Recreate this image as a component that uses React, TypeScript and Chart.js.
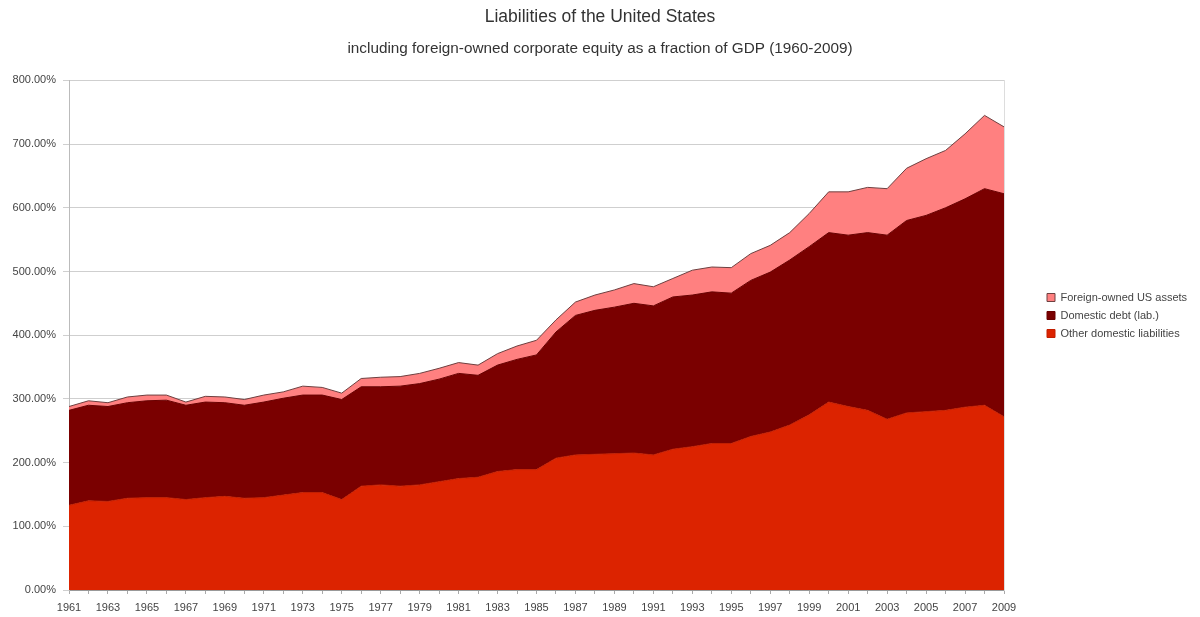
import { useEffect, useRef } from 'react';
import { Chart, registerables } from 'chart.js';

Chart.register(...registerables);

const years = [
  '1961', '1962', '1963', '1964', '1965', '1966', '1967', '1968', '1969', '1970',
  '1971', '1972', '1973', '1974', '1975', '1976', '1977', '1978', '1979', '1980',
  '1981', '1982', '1983', '1984', '1985', '1986', '1987', '1988', '1989', '1990',
  '1991', '1992', '1993', '1994', '1995', '1996', '1997', '1998', '1999', '2000',
  '2001', '2002', '2003', '2004', '2005', '2006', '2007', '2008', '2009',
];

// Other domestic liabilities (% of GDP)
const otherDomestic = [
  133, 140, 139, 144, 145, 145, 142, 145, 147, 144,
  145, 149, 153, 153, 142, 163, 165, 163, 165, 170,
  175, 177, 186, 189, 189, 207, 212, 213, 214, 215,
  212, 221, 225, 230, 230, 241, 248, 259, 275, 295,
  288, 282, 268, 278, 280, 282, 287, 290, 272,
];

// Domestic debt (liabilities) (% of GDP)
const domesticDebt = [
  149, 150, 149, 150, 152, 153, 148, 150, 147, 146,
  150, 152, 153, 153, 157, 156, 154, 157, 159, 161,
  165, 160, 167, 173, 180, 198, 219, 226, 230, 235,
  234, 239, 238, 238, 236, 245, 251, 259, 264, 266,
  269, 279, 289, 302, 308, 318, 327, 340, 350,
];

// Foreign-owned US assets (% of GDP)
const foreignOwned = [
  6, 7, 6, 9, 9, 8, 5, 9, 9, 9,
  11, 10, 14, 12, 10, 13, 15, 15, 16, 17,
  17, 16, 18, 21, 23, 19, 21, 24, 27, 31,
  30, 29, 39, 39, 40, 42, 42, 43, 52, 64,
  68, 71, 73, 82, 89, 90, 102, 115, 105,
];

const seriesNames = ['Other domestic liabilities', 'Domestic debt (lab.)', 'Foreign-owned US assets'];
const titleText = 'Liabilities of the United States';
const subtitleText = 'including foreign-owned corporate equity as a fraction of GDP (1960-2009)';

const FONT = "'Liberation Sans', Arial, sans-serif";

const legendPlacer = {
  id: 'legendPlacer',
  beforeLayout(chart: any) {
    const lg = chart.legend;
    if (lg && !lg.__patched) {
      const orig = lg.fit.bind(lg);
      lg.fit = function () {
        orig();
        this.width = 196;
      };
      lg.__patched = true;
    }
  },
  afterLayout(chart: any) {
    const lg = chart.legend;
    if (!lg) return;
    const w = lg.width;
    const h = lg.height;
    lg.left = 1040;
    lg.right = lg.left + w;
    lg.top = 285;
    lg.bottom = lg.top + h;
  },
};

export default function App() {
  const canvasRef = useRef<HTMLCanvasElement | null>(null);

  useEffect(() => {
    document.body.style.margin = '0';
    const canvas = canvasRef.current;
    if (!canvas) return;
    const chart = new Chart(canvas, {
      type: 'line',
      data: {
        labels: years,
        datasets: [
          {
            label: seriesNames[0],
            data: otherDomestic,
            backgroundColor: '#dc2300',
            borderColor: '#c21f00',
            borderWidth: 1,
            fill: 'origin',
            pointRadius: 0,
            tension: 0,
          },
          {
            label: seriesNames[1],
            data: domesticDebt,
            backgroundColor: '#7a0000',
            borderColor: '#6a0000',
            borderWidth: 1,
            fill: '-1',
            pointRadius: 0,
            tension: 0,
          },
          {
            label: seriesNames[2],
            data: foreignOwned,
            backgroundColor: '#ff8080',
            borderColor: '#6e4040',
            borderWidth: 1,
            fill: '-1',
            pointRadius: 0,
            tension: 0,
          },
        ],
      },
      options: {
        animation: false,
        responsive: true,
        maintainAspectRatio: false,
        layout: { padding: { left: 0, right: 0, top: 0, bottom: 0 } },
        plugins: {
          title: {
            display: true,
            text: titleText,
            color: '#333',
            font: { family: FONT, size: 17.5, weight: 'normal' },
            padding: { top: 7, bottom: 6 },
          },
          subtitle: {
            display: true,
            text: subtitleText,
            color: '#333',
            font: { family: FONT, size: 15.3, weight: 'normal' },
            padding: { top: 6, bottom: 22 },
          },
          legend: {
            display: true,
            position: 'right',
            align: 'start',
            reverse: true,
            labels: {
              boxWidth: 8,
              boxHeight: 8,
              padding: 7,
              color: '#444',
              font: { family: FONT, size: 11 },
            },
          },
          tooltip: { enabled: false },
        },
        scales: {
          x: {
            type: 'category',
            offset: false,
            afterFit: (scale: any) => {
              scale.height = 27;
            },
            grid: {
              display: true,
              drawOnChartArea: false,
              drawTicks: true,
              tickLength: 4,
              color: '#aaa',
            },
            border: { display: true, color: '#999' },
            ticks: {
              autoSkip: false,
              maxRotation: 0,
              minRotation: 0,
              padding: 7,
              color: '#444',
              font: { family: FONT, size: 11 },
              callback: (_v: any, i: number) => (i % 2 === 0 ? years[i] : ''),
            },
          },
          y: {
            stacked: true,
            min: 0,
            max: 800,
            afterFit: (scale: any) => {
              scale.width = 69;
            },
            grid: {
              color: '#cfcfcf',
              tickLength: 6,
            },
            border: { display: true, color: '#bbb' },
            ticks: {
              stepSize: 100,
              padding: 7,
              color: '#444',
              font: { family: FONT, size: 11 },
              callback: (v: any) => Number(v).toFixed(2) + '%',
            },
          },
          y2: {
            position: 'right',
            min: 0,
            max: 800,
            afterFit: (scale: any) => {
              scale.width = 0;
            },
            grid: { drawOnChartArea: false, drawTicks: false },
            border: { display: true, color: '#ddd' },
            ticks: { display: false },
          },
        },
      },
      plugins: [legendPlacer],
    } as any);
    return () => chart.destroy();
  }, []);

  return (
    <div style={{ position: 'relative', width: 1200, height: 617 }}>
      <canvas ref={canvasRef} />
    </div>
  );
}
